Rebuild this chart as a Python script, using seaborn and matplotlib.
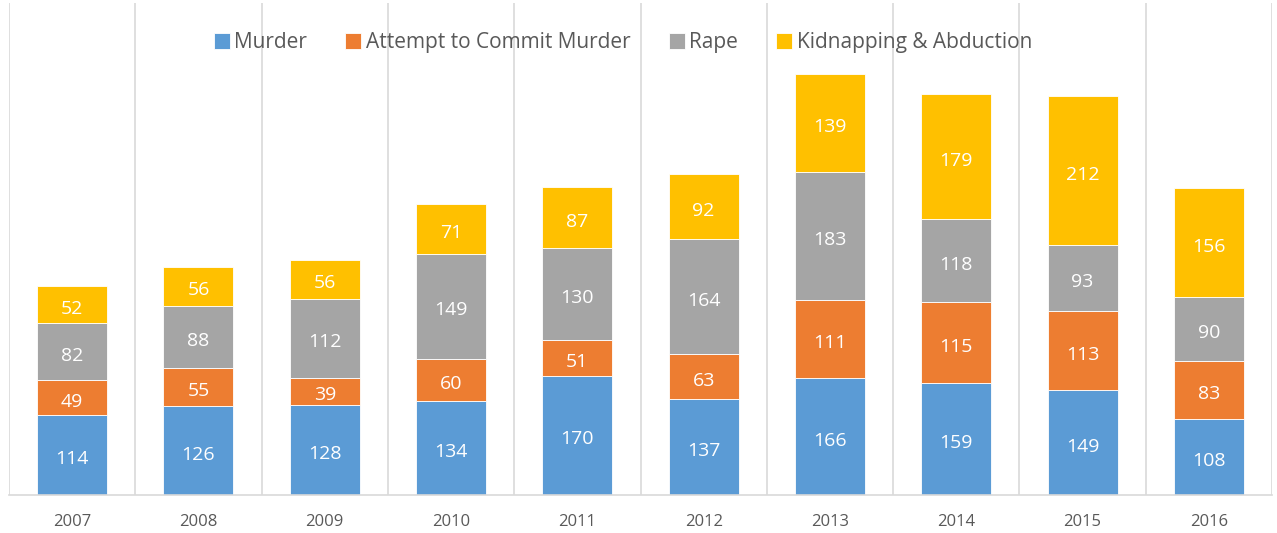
import pandas as pd
import matplotlib.pyplot as plt
import seaborn as sns

years = ["2007", "2008", "2009", "2010", "2011", "2012", "2013", "2014", "2015", "2016"]
murder = [114, 126, 128, 134, 170, 137, 166, 159, 149, 108]
attempt = [49, 55, 39, 60, 51, 63, 111, 115, 113, 83]
rape = [82, 88, 112, 149, 130, 164, 183, 118, 93, 90]
kidnap = [52, 56, 56, 71, 87, 92, 139, 179, 212, 156]

series = [
    ("Murder", murder, "#5B9BD5"),
    ("Attempt to Commit Murder", attempt, "#ED7D31"),
    ("Rape", rape, "#A5A5A5"),
    ("Kidnapping & Abduction", kidnap, "#FFC000"),
]

sns.set_style("white")
plt.rcParams['font.family'] = ['Open Sans', 'DejaVu Sans']

fig = plt.figure(figsize=(12.77, 5.33), dpi=100)
ax = fig.add_axes([9 / 1277, 38 / 533, 1263 / 1277, 492 / 533])

bottom = [0] * len(years)
for name, vals, color in series:
    df = pd.DataFrame({"year": years, "count": vals})
    sns.barplot(data=df, x="year", y="count", color=color, width=0.555, saturation=1,
                bottom=bottom, label=name, ax=ax, edgecolor="white", linewidth=0.6)
    bottom = [b + v for b, v in zip(bottom, vals)]

# white value labels in the middle of each segment
for cont in ax.containers:
    ax.bar_label(cont, label_type="center", color="white", fontsize=14, padding=-3)

ax.set_ylim(0, 700)
ax.set_xlim(-0.5, len(years) - 0.5)
ax.set_xticks([i - 0.5 for i in range(len(years) + 1)], minor=True)
ax.grid(True, which="minor", axis="x", color="#D9D9D9", linewidth=1.2)
ax.tick_params(axis="x", which="both", length=0, colors="#595959", labelsize=12, pad=14)
ax.set_yticks([])
ax.set_xlabel("")
ax.set_ylabel("")
for side in ["top", "right", "left"]:
    ax.spines[side].set_visible(False)
ax.spines["bottom"].set_color("#D9D9D9")
ax.spines["bottom"].set_linewidth(1.2)

leg = ax.legend(ncol=4, loc="center", bbox_to_anchor=(0.486, 0.919), frameon=False,
                fontsize=15, handlelength=0.77, handleheight=0.77, handletextpad=0.2,
                columnspacing=1.85, labelcolor="#595959")

fig.savefig("out.png", dpi=100)
